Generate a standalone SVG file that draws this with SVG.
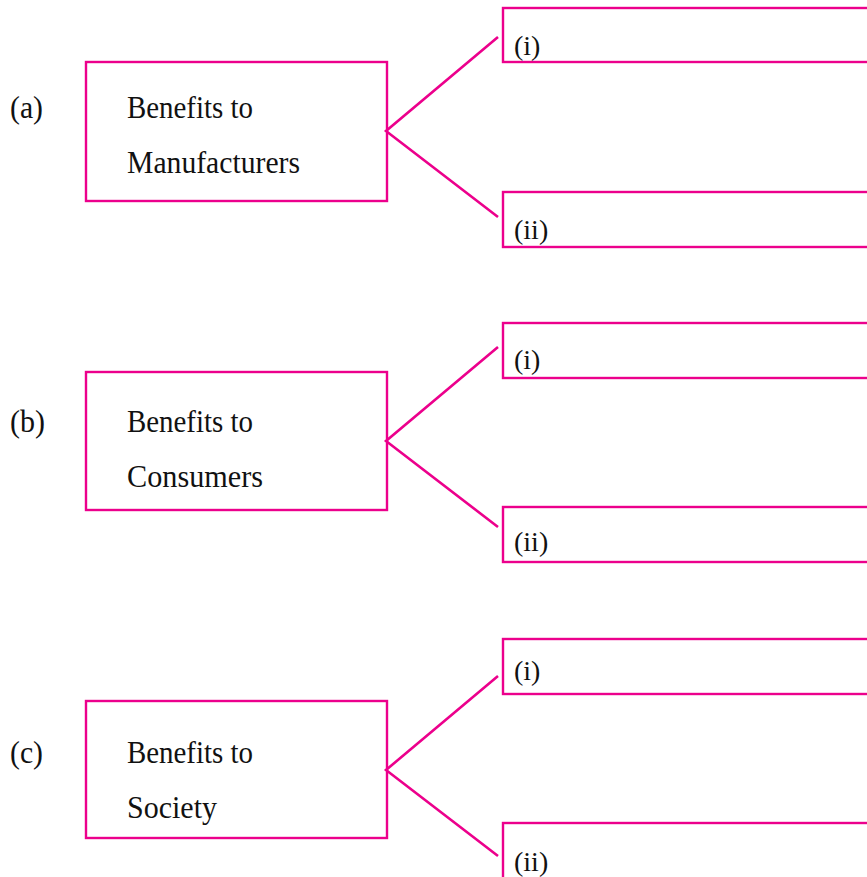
<svg xmlns="http://www.w3.org/2000/svg" width="867" height="877" viewBox="0 0 867 877">
<style>
.box{fill:none;stroke:#EC008C;stroke-width:2.4}
.ln{fill:none;stroke:#EC008C;stroke-width:2.6}
text{font-family:"Liberation Serif","Times New Roman",serif;fill:#111}
.t{font-size:31px}
.s{font-size:28px}
</style>
<rect width="867" height="877" fill="#fff"/>
<g id="connectors">
<polyline class="ln" points="498,37 386,131 498,217"/>
<polyline class="ln" points="498,347 386,441 498,527"/>
<polyline class="ln" points="498,676 386,770 498,856"/>
</g>
<g id="label-a"><text class="t" x="10" y="118" textLength="33" lengthAdjust="spacingAndGlyphs">(a)</text></g>
<g id="label-b"><text class="t" x="10" y="432" textLength="35" lengthAdjust="spacingAndGlyphs">(b)</text></g>
<g id="label-c"><text class="t" x="10" y="763" textLength="33" lengthAdjust="spacingAndGlyphs">(c)</text></g>
<g id="node-a">
<rect class="box" x="86" y="62" width="301" height="139"/>
<text class="t" x="127" y="118" textLength="126" lengthAdjust="spacingAndGlyphs">Benefits to</text>
<text class="t" x="127" y="173" textLength="173" lengthAdjust="spacingAndGlyphs">Manufacturers</text>
</g>
<g id="node-b">
<rect class="box" x="86" y="372" width="301" height="138"/>
<text class="t" x="127" y="432" textLength="126" lengthAdjust="spacingAndGlyphs">Benefits to</text>
<text class="t" x="127" y="487" textLength="136" lengthAdjust="spacingAndGlyphs">Consumers</text>
</g>
<g id="node-c">
<rect class="box" x="86" y="701" width="301" height="137"/>
<text class="t" x="127" y="763" textLength="126" lengthAdjust="spacingAndGlyphs">Benefits to</text>
<text class="t" x="127" y="818" textLength="90" lengthAdjust="spacingAndGlyphs">Society</text>
</g>
<g id="node-a1"><rect class="box" x="503" y="8" width="400" height="54"/><text class="s" x="514" y="55">(i)</text></g>
<g id="node-a2"><rect class="box" x="503" y="192" width="400" height="55"/><text class="s" x="514" y="239">(ii)</text></g>
<g id="node-b1"><rect class="box" x="503" y="323" width="400" height="55"/><text class="s" x="514" y="369">(i)</text></g>
<g id="node-b2"><rect class="box" x="503" y="507" width="400" height="55"/><text class="s" x="514" y="551">(ii)</text></g>
<g id="node-c1"><rect class="box" x="503" y="639" width="400" height="55"/><text class="s" x="514" y="680">(i)</text></g>
<g id="node-c2"><rect class="box" x="503" y="823" width="400" height="80"/><text class="s" x="514" y="871">(ii)</text></g>
</svg>
